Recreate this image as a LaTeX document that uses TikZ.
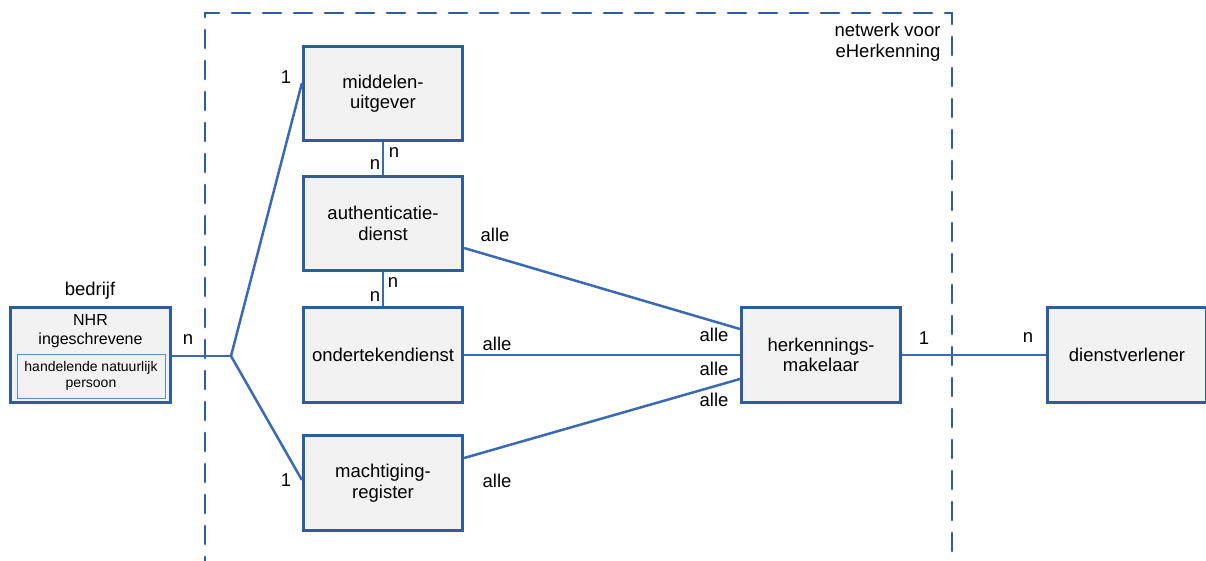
\documentclass[tikz,border=0pt]{standalone}
\usepackage{fontspec}
\setmainfont{Liberation Sans}
\definecolor{rand}{RGB}{46,92,160}
\definecolor{lijn}{RGB}{58,106,180}
\definecolor{binnen}{RGB}{96,140,200}
\definecolor{vak}{RGB}{242,242,242}

\begin{document}
\begin{tikzpicture}[x=1pt, y=-1pt, font=\fontsize{18.5}{20.5}\selectfont]
\def\blok{node [rectangle, draw=rand, line width=2.7pt, fill=vak, minimum width=159.5pt, minimum height=94.5pt, align=center] }
\useasboundingbox (0,0) rectangle (1206,561);

\draw [rand, line width=2.8pt, dash pattern=on 18pt off 13pt, line cap=round] (205,575) |- (952,13) -- (952,575);
\node [anchor=north east, align=right] (netwerk) at (944,20) {netwerk voor\\eHerkenning};

\draw (90.5,355) \blok (bedrijf) {};
\draw (383,93.5) \blok (middel) {middelen-\\uitgever};
\draw (383,223.5) \blok (auth) {authenticatie-\\dienst};
\draw (383,355) \blok (onder) {ondertekendienst};
\draw (383,483) \blok (macht) {machtiging-\\register};
\draw (821,355) \blok (herk) {herkennings-\\makelaar};
\draw (1127,355) \blok (dienst) {dienstverlener};

\node [align=center, font=\fontsize{16}{19}\selectfont] (nhr) at (90.5,331) {NHR\\ingeschrevene};
\node [rectangle, draw=binnen, line width=1pt, fill=vak, minimum width=148pt, minimum height=44pt, align=center, font=\fontsize{14}{15.5}\selectfont] (persoon) at (91,376) {handelende natuurlijk\\persoon};
\node (bedrijfnaam) at (90,291) {bedrijf};

\coordinate (splits) at (231,356);

\node (nbedrijf) at (188,340) {n};
\node (eenmiddel) at (286,77) {1};
\node (eenmacht) at (286,480) {1};
\node (nmiddel) at (394,153) {n};
\node (nauthboven) at (375,165) {n};
\node (nauthonder) at (393,283) {n};
\node (nonder) at (375,297) {n};
\node (alleauth) at (495,235) {alle};
\node (alleonder) at (497,344) {alle};
\node (allemacht) at (497,481) {alle};
\node (alleherk1) at (714,335) {alle};
\node (alleherk2) at (714,369) {alle};
\node (alleherk3) at (714,400) {alle};
\node (eenherk) at (924,338) {1};
\node (ndienst) at (1028,338) {n};

\draw [lijn, line width=2.5pt] (bedrijf.east |- splits) -- (splits);
\draw [lijn, line width=2.5pt] (splits) -- ([yshift=10.5pt]middel.west);
\draw [lijn, line width=2.5pt] (splits) -- ([yshift=3pt]macht.west);
\draw [lijn, line width=2.5pt] (middel) -- (auth);
\draw [lijn, line width=2.5pt] (auth) -- (onder);
\draw [lijn, line width=2.5pt] ([yshift=-24.5pt]auth.east) -- ([yshift=26pt]herk.west);
\draw [lijn, line width=2.5pt] (onder) -- (herk);
\draw [lijn, line width=2.5pt] ([yshift=25pt]macht.east) -- ([yshift=-24pt]herk.west);
\draw [lijn, line width=2.5pt] (herk) -- (dienst);
\end{tikzpicture}
\end{document}
